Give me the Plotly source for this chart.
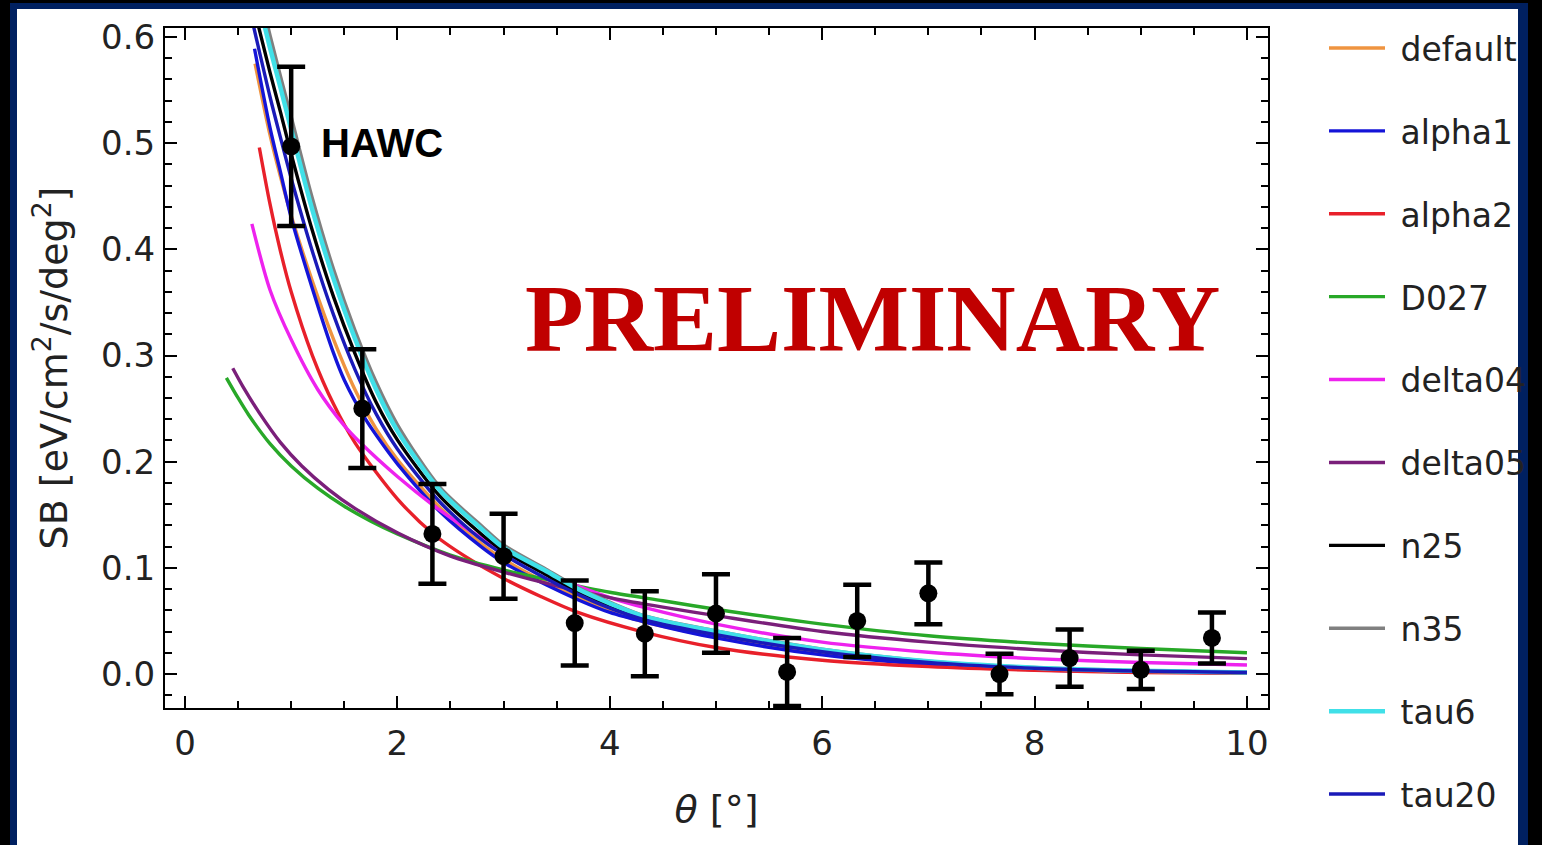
import plotly.graph_objects as go

# ---------------- data ----------------
theta_data = [1.0, 1.67, 2.33, 3.0, 3.67, 4.33, 5.0, 5.67, 6.33, 7.0, 7.67, 8.33, 9.0, 9.67]
sb_data = [0.497, 0.250, 0.132, 0.111, 0.048, 0.038, 0.057, 0.002, 0.050, 0.076, 0.000, 0.015, 0.004, 0.034]
err_data = [0.075, 0.056, 0.047, 0.040, 0.040, 0.040, 0.037, 0.032, 0.034, 0.029, 0.019, 0.027, 0.018, 0.024]

th_default = [0.66, 0.80, 0.90, 1.00, 1.20, 1.40, 1.60, 1.80, 2.00, 2.40, 2.80, 3.00, 3.40, 3.70, 4.00, 4.33, 5.00, 6.00, 7.00, 8.00, 9.00, 10.0]
sb_default = [0.575, 0.508, 0.468, 0.432, 0.370, 0.315, 0.268, 0.231, 0.202, 0.157, 0.122, 0.108, 0.086, 0.072, 0.059, 0.049, 0.035, 0.019, 0.0095, 0.0045, 0.0022, 0.0011]

th_alpha1 = [0.655, 0.80, 0.90, 1.00, 1.20, 1.40, 1.50, 1.70, 1.85, 2.00, 2.40, 2.80, 3.00, 3.40, 3.70, 4.00, 4.33, 5.00, 6.00, 7.00, 8.00, 9.00, 10.0]
sb_alpha1 = [0.589, 0.515, 0.4725, 0.430, 0.363, 0.302, 0.277, 0.240, 0.218, 0.198, 0.153, 0.119, 0.105, 0.084, 0.070, 0.058, 0.049, 0.034, 0.018, 0.009, 0.004, 0.002, 0.001]

th_alpha2 = [0.70, 0.80, 0.90, 1.00, 1.20, 1.40, 1.60, 2.00, 2.35, 2.70, 3.00, 3.35, 3.70, 4.30, 5.00, 6.00, 7.00, 8.00, 9.00, 10.0]
sb_alpha2 = [0.496, 0.443, 0.398, 0.360, 0.300, 0.254, 0.218, 0.165, 0.131, 0.107, 0.090, 0.073, 0.058, 0.040, 0.025, 0.013, 0.007, 0.0035, 0.0015, 0.0007]

th_D027 = [0.39, 0.50, 0.60, 0.80, 1.00, 1.25, 1.50, 1.75, 2.00, 2.50, 3.00, 3.50, 4.00, 4.50, 5.00, 6.00, 7.00, 8.00, 9.00, 10.0]
sb_D027 = [0.279, 0.260, 0.244, 0.217, 0.196, 0.175, 0.158, 0.144, 0.132, 0.112, 0.098, 0.087, 0.077, 0.069, 0.061, 0.047, 0.036, 0.029, 0.024, 0.020]

th_delta04 = [0.63, 0.80, 1.00, 1.25, 1.50, 1.65, 2.00, 2.35, 2.70, 3.00, 3.50, 4.00, 4.35, 5.00, 6.00, 7.00, 8.00, 9.00, 10.0]
sb_delta04 = [0.424, 0.362, 0.315, 0.268, 0.234, 0.218, 0.186, 0.158, 0.134, 0.116, 0.091, 0.072, 0.062, 0.047, 0.030, 0.0205, 0.0145, 0.0108, 0.0085]

th_delta05 = [0.45, 0.55, 0.70, 0.90, 1.10, 1.35, 1.60, 2.00, 2.50, 3.00, 3.50, 4.00, 4.50, 5.00, 6.00, 7.00, 8.00, 9.00, 10.0]
sb_delta05 = [0.288, 0.270, 0.246, 0.218, 0.196, 0.174, 0.156, 0.133, 0.111, 0.096, 0.083, 0.072, 0.063, 0.055, 0.040, 0.030, 0.023, 0.018, 0.0145]

th_n25 = [0.66, 0.80, 0.90, 1.00, 1.20, 1.40, 1.60, 1.80, 2.00, 2.40, 2.80, 3.00, 3.40, 3.70, 4.00, 4.33, 5.00, 6.00, 7.00, 8.00, 9.00, 10.0]
sb_n25 = [0.623, 0.567, 0.529, 0.490, 0.4175, 0.355, 0.302, 0.256, 0.2206, 0.1675, 0.131, 0.1157, 0.0936, 0.0773, 0.064, 0.0527, 0.0385, 0.022, 0.0115, 0.0058, 0.0029, 0.0015]

th_n35 = [0.68, 0.80, 0.90, 1.00, 1.20, 1.40, 1.60, 1.80, 2.00, 2.40, 2.80, 3.00, 3.40, 3.70, 4.00, 4.33, 5.00, 6.00, 7.00, 8.00, 9.00, 10.0]
sb_n35 = [0.652, 0.602, 0.563, 0.525, 0.448, 0.381, 0.324, 0.275, 0.235, 0.176, 0.139, 0.1216, 0.0987, 0.0814, 0.0677, 0.0547, 0.0407, 0.0234, 0.0122, 0.0061, 0.0031, 0.0015]

th_tau6 = [0.66, 0.70, 0.80, 0.90, 1.00, 1.20, 1.40, 1.60, 1.80, 2.00, 2.40, 2.80, 3.00, 3.40, 3.70, 4.00, 4.33, 5.00, 6.00, 7.00, 8.00, 9.00, 10.0]
sb_tau6 = [0.648, 0.631, 0.590, 0.552, 0.513, 0.437, 0.372, 0.316, 0.268, 0.229, 0.173, 0.136, 0.119, 0.097, 0.080, 0.0665, 0.054, 0.040, 0.023, 0.012, 0.006, 0.003, 0.0015]

th_tau20 = [0.60, 0.80, 0.90, 1.00, 1.20, 1.40, 1.60, 1.80, 2.00, 2.40, 2.80, 3.00, 3.40, 3.70, 4.00, 4.33, 5.00, 6.00, 7.00, 8.00, 9.00, 10.0]
sb_tau20 = [0.630, 0.544, 0.505, 0.467, 0.398, 0.338, 0.287, 0.245, 0.212, 0.162, 0.126, 0.1125, 0.090, 0.075, 0.062, 0.051, 0.037, 0.021, 0.011, 0.0055, 0.0028, 0.0014]

models = [
    ("default", th_default, sb_default, "#ef9440", 3.4),
    ("alpha1", th_alpha1, sb_alpha1, "#1414d8", 3.4),
    ("alpha2", th_alpha2, sb_alpha2, "#e8202a", 3.4),
    ("D027", th_D027, sb_D027, "#28a828", 3.4),
    ("delta04", th_delta04, sb_delta04, "#ee22ee", 3.4),
    ("delta05", th_delta05, sb_delta05, "#7a1f7a", 3.4),
    ("n25", th_n25, sb_n25, "#000000", 3.4),
    ("n35", th_n35, sb_n35, "#808080", 3.4),
    ("tau6", th_tau6, sb_tau6, "#40e0e8", 4.5),
    ("tau20", th_tau20, sb_tau20, "#1a1ab8", 3.4),
]

FONT = "DejaVu Sans"
TXT = "#222222"

fig = go.Figure()
for name, th, sb, col, w in models:
    fig.add_trace(go.Scatter(
        x=th, y=sb, mode="lines", name="\u00a0" + name, legendgroup=name,
        line=dict(color=col, width=w, shape="spline", smoothing=0.8),
    ))

fig.add_trace(go.Scatter(
    x=theta_data, y=sb_data, mode="markers", showlegend=False, name="HAWC",
    marker=dict(color="black", size=18),
    error_y=dict(type="data", array=err_data, color="black", thickness=4.5, width=14),
))

W, H = 1542, 845
L, R, T, B = 165, 1268, 28, 708
pw, ph = R - L, B - T

def px(x):
    return (x - L) / pw

def py(y):
    return (B - y) / ph

shapes = [
    dict(type="rect", xref="paper", yref="paper", x0=px(10), x1=px(1528), y0=py(860), y1=py(3),
         fillcolor="#002060", line=dict(width=0), layer="below"),
    dict(type="rect", xref="paper", yref="paper", x0=px(17), x1=px(1518), y0=py(860), y1=py(9),
         fillcolor="white", line=dict(width=0), layer="below"),
]

annotations = [
    dict(x=1.262, y=0.500, xref="x", yref="y", text="<b>HAWC</b>", showarrow=False,
         xanchor="left", yanchor="middle",
         font=dict(family="Liberation Sans", size=40, color="black")),
    dict(x=px(872), y=py(318), xref="paper", yref="paper", text="<b>PRELIMINARY</b>", showarrow=False,
         xanchor="center", yanchor="middle",
         font=dict(family="Liberation Serif", size=96, color="#c00000")),
]

axis_common = dict(
    showline=True, linecolor="black", linewidth=2, mirror="ticks",
    ticks="inside", ticklen=12, tickwidth=2, tickcolor="black",
    showgrid=False, zeroline=False,
    tickfont=dict(family=FONT, size=34, color=TXT),
)

fig.update_layout(
    width=W, height=H,
    margin=dict(l=L, r=W - R, t=T, b=H - B, autoexpand=False),
    paper_bgcolor="black", plot_bgcolor="white",
    shapes=shapes, annotations=annotations,
    showlegend=True,
    legend=dict(
        x=px(1324), y=py(20), xanchor="left", yanchor="top",
        font=dict(family=FONT, size=33, color=TXT),
        bgcolor="rgba(0,0,0,0)", tracegroupgap=37, itemwidth=56,
        maxheight=2000,
    ),
    xaxis=dict(
        range=[-0.188, 10.198], dtick=2, tick0=0,
        minor=dict(ticks="inside", ticklen=7, tickwidth=1.5, tickcolor="black", dtick=0.5),
        ticklabelstandoff=4,
        title=dict(text="<i>θ</i> [°]", font=dict(family=FONT, size=38, color=TXT), standoff=34),
        **axis_common,
    ),
    yaxis=dict(
        range=[-0.032, 0.6085], dtick=0.1, tick0=0, tickformat=".1f",
        minor=dict(ticks="inside", ticklen=7, tickwidth=1.5, tickcolor="black", dtick=0.02),
        ticklabelstandoff=1,
        title=dict(text="SB [eV/cm<sup>2</sup>/s/deg<sup>2</sup>]",
                   font=dict(family=FONT, size=38, color=TXT), standoff=22),
        **axis_common,
    ),
)

fig.write_html("out.html")
